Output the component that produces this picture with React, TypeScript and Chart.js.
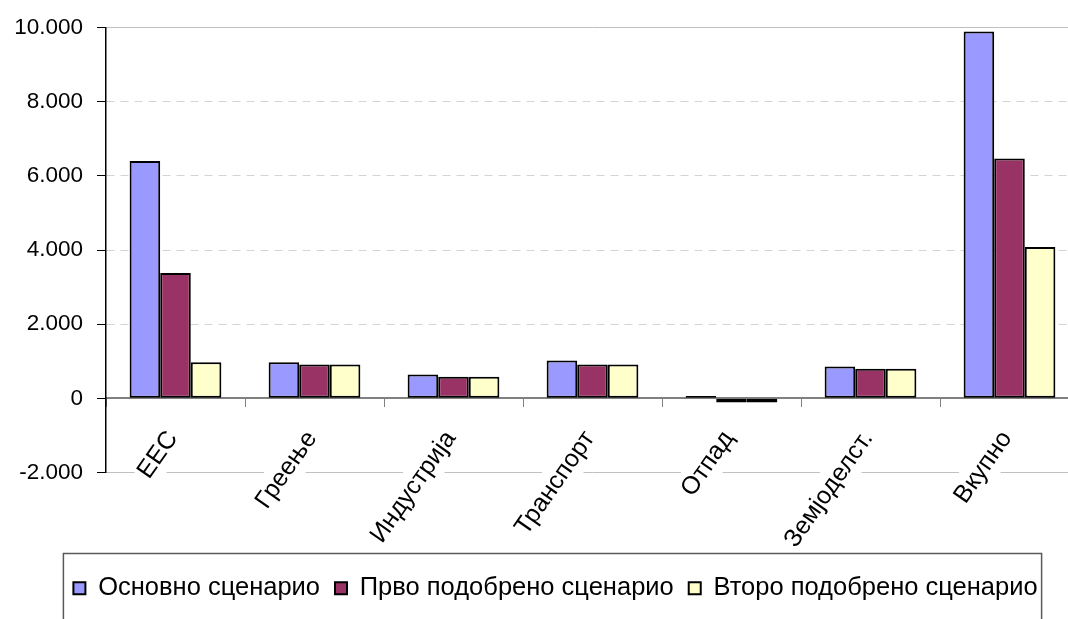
import React, { useEffect, useRef } from "react";
import { Chart, registerables } from "chart.js";

Chart.register(...registerables);

const categories = ["ЕЕС", "Греење", "Индустрија", "Транспорт", "Отпад", "Земјоделст.", "Вкупно"];
const seriesNames = ["Основно сценарио", "Прво подобрено сценарио", "Второ подобрено сценарио"];
const baseScenario = [6400, 975, 645, 1020, 60, 860, 9890];
const firstImproved = [3380, 915, 585, 915, -110, 800, 6470];
const secondImproved = [975, 915, 585, 915, -110, 800, 4080];
const seriesColors = ["#9999FF", "#993366", "#FFFFCC"];
const yMin = -2000;
const yMax = 10000;
const yStep = 2000;

const FONT = "'Liberation Sans', Arial, sans-serif";

const fmt = (v: number) => {
  const s = String(Math.abs(v)).replace(/\B(?=(\d{3})+(?!\d))/g, ".");
  return v < 0 ? "-" + s : s;
};

const legendFrame = {
  id: "legendFrame",
  afterDraw(chart: any) {
    const lg = chart.legend;
    if (!lg || !lg.legendHitBoxes || !lg.legendHitBoxes.length) return;
    const hb = lg.legendHitBoxes;
    const first = hb[0];
    const last = hb[hb.length - 1];
    const left = first.left - 10;
    const right = last.left + last.width + 4;
    const top = first.top - 22;
    const ctx = chart.ctx;
    ctx.save();
    ctx.strokeStyle = "#5a5a5a";
    ctx.lineWidth = 1.5;
    ctx.strokeRect(left, top, right - left, chart.height);
    ctx.restore();
  },
};

export default function App() {
  const ref = useRef<HTMLCanvasElement | null>(null);

  useEffect(() => {
    if (!ref.current) return;
    const data = [baseScenario, firstImproved, secondImproved];
    const chart = new Chart(ref.current, {
      type: "bar",
      data: {
        labels: categories,
        datasets: data.map((d, i) => ({
          label: seriesNames[i],
          data: d,
          backgroundColor: seriesColors[i],
          borderColor: "#000",
          borderWidth: 2,
          borderSkipped: false,
          categoryPercentage: 0.66,
          barPercentage: 1,
        })),
      },
      options: {
        responsive: false,
        animation: false,
        devicePixelRatio: 1,
        layout: { padding: { left: 0, right: 11, top: 27, bottom: 8 } },
        plugins: {
          legend: {
            position: "bottom",
            title: { display: true, text: "", font: { size: 10 }, padding: { top: 76, bottom: 0 } },
            labels: {
              boxWidth: 12,
              boxHeight: 12,
              padding: 15,
              color: "#000",
              font: { family: FONT, size: 25.5 },
            },
          },
          tooltip: { enabled: false },
        },
        scales: {
          x: {
            type: "category",
            position: { y: 0 } as any,
            offset: true,
            grid: {
              display: true,
              drawOnChartArea: false,
              drawTicks: true,
              tickLength: 8,
              tickColor: "#808080",
              offset: true,
            },
            border: { display: true, color: "#808080", width: 2 },
            ticks: {
              autoSkip: false,
              minRotation: 55,
              maxRotation: 55,
              padding: 19,
              labelOffset: -15,
              color: "#000",
              font: { family: FONT, size: 25 },
              showLabelBackdrop: true,
              backdropColor: "#ffffff",
              backdropPadding: 2,
            },
            afterFit: (s: any) => {
              s.height = 0;
            },
          },
          y: {
            min: yMin,
            max: yMax,
            grid: {
              color: (c: any) => {
                const v = c.tick ? c.tick.value : 0;
                return v === yMax || v === yMin ? "#c0c0c0" : "#d4d4d4";
              },
              lineWidth: 1,
              tickColor: "#000",
              tickLength: 9,
            },
            border: {
              display: true,
              color: "#000",
              width: 1.5,
              dash: (c: any) => {
                const v = c.tick ? c.tick.value : 0;
                return v === yMax || v === yMin ? [] : [8, 6];
              },
            },
            ticks: {
              stepSize: yStep,
              padding: 14,
              color: "#000",
              font: { family: FONT, size: 22.5 },
              callback: (v: any) => fmt(Number(v)),
            },
            afterFit: (s: any) => {
              s.width = 106;
            },
          },
          yPad: {
            type: "linear",
            position: "right",
            display: true,
            grid: { display: false },
            border: { display: false },
            ticks: { display: false },
            afterFit: (s: any) => {
              s.width = 32;
            },
          },
        },
      },
      plugins: [legendFrame],
    });
    return () => chart.destroy();
  }, []);

  return (
    <div
      style={{
        position: "fixed",
        left: 0,
        top: 0,
        width: 1068,
        height: 619,
        overflow: "hidden",
        background: "#fff",
      }}
    >
      <canvas ref={ref} width={1122} height={619} style={{ display: "block", width: 1122, height: 619 }} />
    </div>
  );
}
